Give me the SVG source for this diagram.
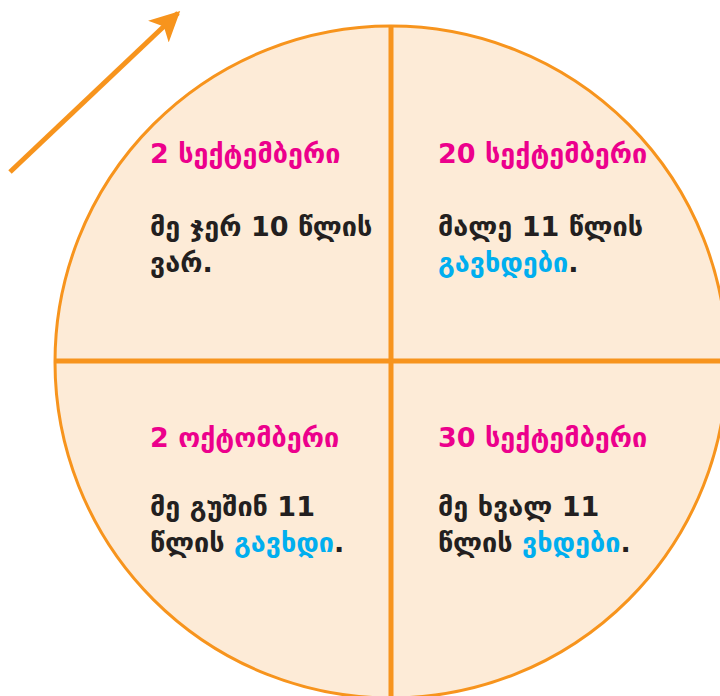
<svg xmlns="http://www.w3.org/2000/svg" width="720" height="696" viewBox="0 0 720 696">
<style>
text{font-family:"DejaVu Sans","Noto Sans",sans-serif;font-size:27px;font-weight:bold;}
.h{fill:#EC008C;}
.b{fill:#231F20;}
.k{fill:#00AEEF;}
.ln{stroke:#F7941D;stroke-width:5;fill:none;}
</style>
<defs>
<marker id="ah" viewBox="0 0 10 10" refX="9" refY="5" markerWidth="6" markerHeight="6" orient="auto" markerUnits="strokeWidth">
<path d="M0,0 L10,5 L0,10 L2.5,5 Z" fill="#F7941D"/>
</marker>
</defs>
<g id="circle">
<circle cx="391" cy="362" r="336" fill="#FDEBD7" stroke="#F7941D" stroke-width="3"/>
</g>
<g id="connectors">
<line class="ln" x1="391" y1="25" x2="391" y2="696"/>
<line class="ln" x1="55" y1="361" x2="720" y2="361"/>
<line x1="10" y1="172" x2="178" y2="13" stroke="#F7941D" stroke-width="5" marker-end="url(#ah)"/>
</g>
<g id="q1">
<text class="h" x="150" y="163">2 სექტემბერი</text>
<text class="b" x="150" y="236">მე ჯერ 10 წლის</text>
<text class="b" x="150" y="272">ვარ.</text>
</g>
<g id="q2">
<text class="h" x="438" y="163">20 სექტემბერი</text>
<text class="b" x="438" y="236">მალე 11 წლის</text>
<text x="438" y="272"><tspan class="k">გავხდები</tspan><tspan class="b">.</tspan></text>
</g>
<g id="q3">
<text class="h" x="150" y="447">2 ოქტომბერი</text>
<text class="b" x="150" y="516">მე გუშინ 11</text>
<text x="150" y="552"><tspan class="b">წლის </tspan><tspan class="k">გავხდი</tspan><tspan class="b">.</tspan></text>
</g>
<g id="q4">
<text class="h" x="438" y="447">30 სექტემბერი</text>
<text class="b" x="438" y="516">მე ხვალ 11</text>
<text x="438" y="552"><tspan class="b">წლის </tspan><tspan class="k">ვხდები</tspan><tspan class="b">.</tspan></text>
</g>
</svg>
